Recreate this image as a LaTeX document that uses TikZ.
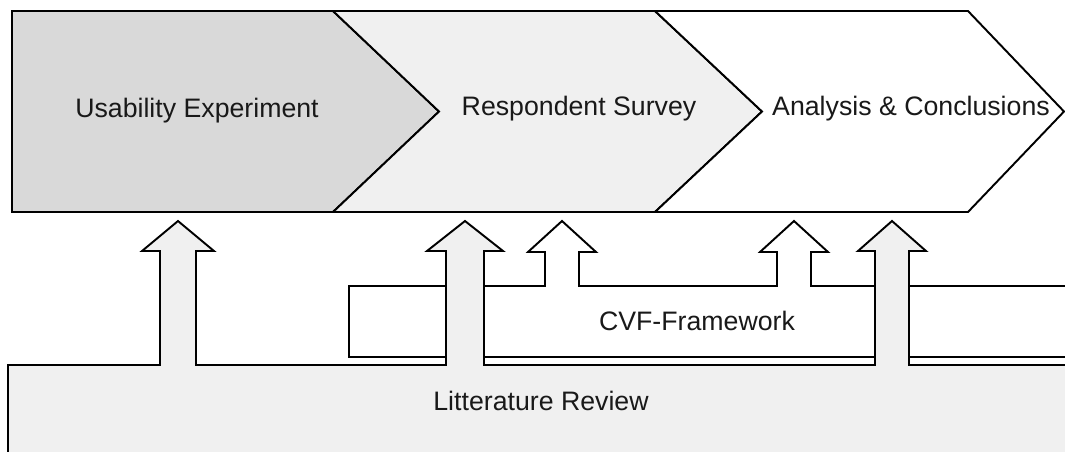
\documentclass[tikz,border=0pt]{standalone}
\usepackage{fontspec}
\setmainfont{Liberation Sans}
\usetikzlibrary{calc}

\definecolor{phasegray}{HTML}{D9D9D9}
\definecolor{palegray}{HTML}{F0F0F0}

\begin{document}
\begin{tikzpicture}[x=0.02cm, y=-0.02cm, line join=miter,
		box/.style={draw=black, line width=1.1pt},
		lbl/.style={font=\fontsize{15.2}{18}\selectfont, text=black!90, inner sep=0pt}]
		\useasboundingbox (0,0) rectangle (1065,451);
		\clip (0,0) rectangle (1065,451);

		% phases
		\draw[box, fill=phasegray] (12,11) -- (333,11) -- (439,111.5) -- (333,212) -- (12,212) -- cycle;
		\draw[box, fill=palegray] (333,11) -- (655,11) -- (762,111.5) -- (655,212) -- (333,212) -- (439,111.5) -- cycle;
		\draw[box, fill=white] (655,11) -- (968,11) -- (1064,111.5) -- (968,212) -- (655,212) -- (762,111.5) -- cycle;
		\node[lbl] (usab) at (197,111) {Usability Experiment};
		\node[lbl] (resp) at (579,109) {Respondent Survey};
		\node[lbl] (anal) at (911,109) {Analysis \& Conclusions};

		% framework with its two arrows
		\draw[box, fill=white] (1080,286) -- (811,286) -- (811,252) -- (828,252) -- (794,221) -- (760,252) -- (777,252) -- (777,286)
			-- (579,286) -- (579,252) -- (596,252) -- (562,221) -- (528,252) -- (545,252) -- (545,286)
			-- (349,286) -- (349,357) -- (1080,357) -- cycle;
		\node[lbl] (cvf) at (697,321) {CVF-Framework};

		% litterature review with its three arrows
		\draw[box, fill=palegray] (1080,365) -- (909,365) -- (909,251) -- (926,251) -- (892,221) -- (858,251) -- (875,251) -- (875,365)
			-- (484,365) -- (484,251) -- (503,251) -- (465,221) -- (427,251) -- (446,251) -- (446,365)
			-- (196,365) -- (196,251) -- (214,251) -- (178,221) -- (142,251) -- (160,251) -- (160,365)
			-- (8,365) -- (8,470) -- (1080,470) -- cycle;
		\node[lbl] (lit) at (541,401) {Litterature Review};
	\end{tikzpicture}
\end{document}
